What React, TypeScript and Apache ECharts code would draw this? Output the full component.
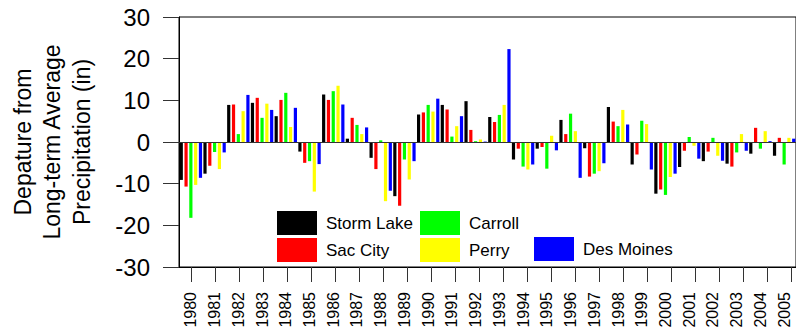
import React, { useEffect, useRef } from "react";
import * as echarts from "echarts";

const years = [
  "1980", "1981", "1982", "1983", "1984", "1985", "1986", "1987", "1988", "1989",
  "1990", "1991", "1992", "1993", "1994", "1995", "1996", "1997", "1998", "1999",
  "2000", "2001", "2002", "2003", "2004", "2005",
];

const stormLake = [-9.1, -7.6, 8.9, 9.4, 6.2, -2.3, 11.4, 0.8, -3.8, -13.0, 6.6, 8.9, 9.8, 6.0, -4.2, -1.6, 5.3, -1.5, 8.4, -5.4, -12.4, -6.0, -4.6, -5.2, -2.8, -3.3];
const sacCity = [-10.7, -5.7, 9.0, 10.6, 10.1, -5.0, 10.1, 5.8, -6.5, -15.3, 7.1, 7.8, 2.9, 4.8, -1.6, -1.2, 1.9, -8.3, 4.9, -3.0, -11.4, -2.1, -2.3, -5.9, 3.4, 1.0];
const carroll = [-18.2, -2.4, 1.9, 5.8, 11.8, -4.6, 12.2, 4.1, 0.4, -4.2, 8.9, 1.3, 0.2, 6.5, -5.9, -6.4, 6.8, -7.6, 3.8, 5.1, -12.7, 1.2, 1.0, -2.5, -1.6, -5.4];
const perry = [-10.3, -6.5, 7.4, 9.2, 3.6, -11.9, 13.5, 1.9, -14.2, -9.0, 7.3, 3.8, 0.6, 8.9, -6.6, 1.5, 2.6, -7.0, 7.7, 4.3, -8.4, -0.9, -3.3, 1.9, 2.6, 1.0];
const desMoines = [-8.6, -2.5, 11.3, 7.7, 8.2, -5.3, 9.0, 3.5, -11.7, -4.6, 10.4, 6.2, 0.1, 22.3, -5.4, -2.0, -8.6, -5.1, 4.2, -6.6, -7.6, -4.0, -4.5, -2.1, 0.2, 0.8];

const yTicks = { min: -30, max: 30, step: 10 };

const FONT = "'Liberation Sans', Arial, Helvetica, sans-serif";

const seriesDefs = [
  { name: "Storm Lake", data: stormLake, color: "#000000" },
  { name: "Sac City", data: sacCity, color: "#ff0000" },
  { name: "Carroll", data: carroll, color: "#00ff00" },
  { name: "Perry", data: perry, color: "#ffff00" },
  { name: "Des Moines", data: desMoines, color: "#0000ff" },
];

// plot area geometry: one 24px band per year
const PLOT_LEFT = 179;
const PLOT_TOP = 17;
const PLOT_HEIGHT = 250;
const BAND = 24;

export default function App() {
  const ref = useRef<HTMLDivElement>(null);

  useEffect(() => {
    if (!ref.current) return;
    const chart = echarts.init(ref.current, null, { renderer: "svg" });

    const legendBase = {
      orient: "vertical" as const,
      icon: "rect",
      itemWidth: 40,
      itemHeight: 24,
      itemGap: 3,
      padding: 0,
      selectedMode: false,
      textStyle: {
        fontFamily: FONT,
        fontSize: 17,
        color: "#000",
        padding: [0, 0, 0, 4],
      },
    };

    chart.setOption({
      animation: false,
      backgroundColor: "#ffffff",
      grid: [
        {
          left: PLOT_LEFT,
          top: PLOT_TOP,
          width: BAND * years.length,
          height: PLOT_HEIGHT,
          show: true,
          borderColor: "#000",
          borderWidth: 1,
          backgroundColor: "transparent",
        },
        // tick grid spanning the year centres, so each tick sits under its bar group
        {
          left: PLOT_LEFT + BAND / 2,
          top: PLOT_TOP,
          width: BAND * (years.length - 1),
          height: PLOT_HEIGHT,
          show: false,
        },
      ],
      legend: [
        { ...legendBase, left: 277, top: 211, data: ["Storm Lake", "Sac City"] },
        { ...legendBase, left: 420, top: 211, data: ["Carroll", "Perry"] },
        { ...legendBase, left: 534, top: 237, data: ["Des Moines"] },
      ],
      xAxis: [
        {
          type: "category",
          gridIndex: 0,
          data: years,
          position: "bottom",
          axisLine: { show: true, onZero: false, lineStyle: { color: "#000", width: 1 } },
          axisTick: { show: false },
          axisLabel: {
            rotate: 90,
            margin: 25,
            fontFamily: FONT,
            fontSize: 16,
            color: "#000",
            interval: 0,
          },
          splitLine: { show: false },
        },
        {
          type: "value",
          gridIndex: 1,
          min: 0,
          max: years.length - 1,
          interval: 1,
          position: "bottom",
          axisLine: { show: false, onZero: false },
          axisTick: { show: true, length: 15, lineStyle: { color: "#333", width: 1 } },
          axisLabel: { show: false },
          splitLine: { show: false },
        },
      ],
      yAxis: [
        {
          type: "value",
          gridIndex: 0,
          min: yTicks.min,
          max: yTicks.max,
          interval: yTicks.step,
          axisLine: { show: true, lineStyle: { color: "#000", width: 1 } },
          axisTick: { show: true, length: 16, lineStyle: { color: "#333", width: 1 } },
          axisLabel: {
            margin: 29,
            fontFamily: FONT,
            fontSize: 24,
            color: "#000",
          },
          splitLine: { show: false },
        },
        {
          type: "value",
          gridIndex: 1,
          min: yTicks.min,
          max: yTicks.max,
          show: false,
        },
      ],
      graphic: [
        {
          type: "text",
          x: 52,
          y: 142,
          rotation: Math.PI / 2,
          style: {
            text: "Depature from\nLong-term Average\nPrecipitation (in)",
            fontFamily: FONT,
            fontSize: 23,
            lineHeight: 29.5,
            fill: "#000",
            align: "center",
            verticalAlign: "middle",
          },
        },
      ],
      series: seriesDefs.map((s, i) => ({
        type: "bar",
        name: s.name,
        xAxisIndex: 0,
        yAxisIndex: 0,
        data: s.data,
        barWidth: 3.2,
        barGap: "50%",
        itemStyle: { color: s.color },
        ...(i === 0
          ? {
              markLine: {
                silent: true,
                symbol: ["none", "none"],
                label: { show: false },
                lineStyle: { color: "#333", type: "solid", width: 1 },
                data: [{ yAxis: 0 }],
              },
            }
          : {}),
      })),
    });

    return () => chart.dispose();
  }, []);

  return (
    <div
      ref={ref}
      style={{ position: "fixed", left: 0, top: 0, width: 796, height: 333 }}
    />
  );
}
